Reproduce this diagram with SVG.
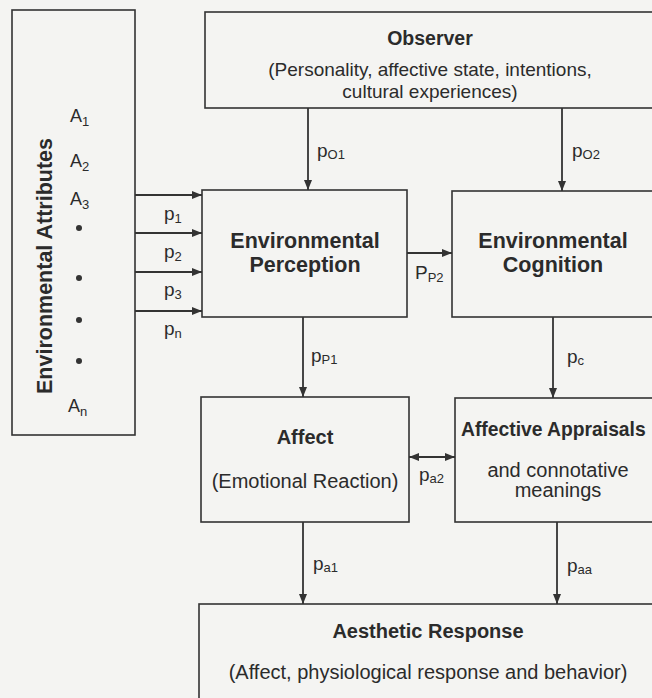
<svg xmlns="http://www.w3.org/2000/svg" width="652" height="698" viewBox="0 0 652 698">
<defs>
<marker id="ah" viewBox="0 0 10 8" refX="10" refY="4" markerWidth="10" markerHeight="8" markerUnits="userSpaceOnUse" orient="auto-start-reverse">
<path d="M0,0 L10,4 L0,8 z" fill="#333"/>
</marker>
<style>
.box{fill:none;stroke:#333;stroke-width:1.6}
.con{fill:none;stroke:#333;stroke-width:1.8}
text{font-family:"Liberation Sans",Arial,sans-serif;fill:#2b2b2b}
.t{font-weight:bold;font-size:20px;text-anchor:middle}
.tb{font-weight:bold;font-size:21.5px;text-anchor:middle}
.s{font-size:20px;text-anchor:middle}
.l{font-size:19px}
.a{font-size:18px}
.sub{font-size:13px}
</style>
</defs>
<rect width="652" height="698" fill="#f4f4f2"/>
<g id="attributes">
<rect class="box" x="12" y="10" width="123" height="425"/>
<text transform="translate(52,266) rotate(-90)" class="tb">Environmental Attributes</text>
<text x="70" y="122" class="a">A<tspan class="sub" dy="4">1</tspan></text>
<text x="70" y="167" class="a">A<tspan class="sub" dy="4">2</tspan></text>
<text x="70" y="205" class="a">A<tspan class="sub" dy="4">3</tspan></text>
<circle cx="79" cy="228" r="3" fill="#333"/>
<circle cx="79" cy="278" r="3" fill="#333"/>
<circle cx="79" cy="320" r="3" fill="#333"/>
<circle cx="79" cy="361" r="3" fill="#333"/>
<text x="68" y="412" class="a">A<tspan class="sub" dy="4">n</tspan></text>
</g>
<g id="observer">
<rect class="box" x="205" y="12" width="460" height="96"/>
<text x="430" y="45" class="t" style="font-size:19.5px">Observer</text>
<text x="430" y="76" class="s" style="font-size:19px">(Personality, affective state, intentions,</text>
<text x="430" y="98" class="s" style="font-size:19px">cultural experiences)</text>
</g>
<g id="perception">
<rect class="box" x="202" y="190" width="205" height="127"/>
<text x="305" y="248" class="tb">Environmental</text>
<text x="305" y="272" class="tb">Perception</text>
</g>
<g id="cognition">
<rect class="box" x="452" y="191" width="220" height="126"/>
<text x="553" y="248" class="tb">Environmental</text>
<text x="553" y="272" class="tb">Cognition</text>
</g>
<g id="affect">
<rect class="box" x="201" y="397" width="208" height="125"/>
<text x="305" y="444" class="t">Affect</text>
<text x="305" y="488" class="s">(Emotional Reaction)</text>
</g>
<g id="appraisals">
<rect class="box" x="455" y="398" width="220" height="124"/>
<text x="461" y="436" class="t" style="text-anchor:start;font-size:19.3px">Affective Appraisals</text>
<text x="558" y="477" class="s">and connotative</text>
<text x="558" y="497" class="s">meanings</text>
</g>
<g id="aesthetic">
<rect class="box" x="199" y="604" width="480" height="110"/>
<text x="428" y="638" class="t">Aesthetic Response</text>
<text x="428" y="679" class="s">(Affect, physiological response and behavior)</text>
</g>
<g id="connectors">
<line class="con" x1="135" y1="195" x2="202" y2="195" marker-end="url(#ah)"/>
<line class="con" x1="135" y1="233" x2="202" y2="233" marker-end="url(#ah)"/>
<line class="con" x1="135" y1="272" x2="202" y2="272" marker-end="url(#ah)"/>
<line class="con" x1="135" y1="311" x2="202" y2="311" marker-end="url(#ah)"/>
<line class="con" x1="308" y1="108" x2="308" y2="190" marker-end="url(#ah)"/>
<line class="con" x1="562" y1="108" x2="562" y2="191" marker-end="url(#ah)"/>
<line class="con" x1="407" y1="253" x2="452" y2="253" marker-end="url(#ah)"/>
<line class="con" x1="303" y1="317" x2="303" y2="397" marker-end="url(#ah)"/>
<line class="con" x1="553" y1="317" x2="553" y2="398" marker-end="url(#ah)"/>
<line class="con" x1="409" y1="457" x2="455" y2="457" marker-start="url(#ah)" marker-end="url(#ah)"/>
<line class="con" x1="303" y1="522" x2="303" y2="604" marker-end="url(#ah)"/>
<line class="con" x1="557" y1="522" x2="557" y2="604" marker-end="url(#ah)"/>
<text x="164" y="220" class="l">p<tspan class="sub" dy="3">1</tspan></text>
<text x="164" y="258" class="l">p<tspan class="sub" dy="3">2</tspan></text>
<text x="164" y="296" class="l">p<tspan class="sub" dy="3">3</tspan></text>
<text x="164" y="335" class="l">p<tspan class="sub" dy="3">n</tspan></text>
<text x="317" y="157" class="l">p<tspan class="sub" dy="2">O1</tspan></text>
<text x="572" y="157" class="l">p<tspan class="sub" dy="2">O2</tspan></text>
<text x="415" y="279" class="l">P<tspan class="sub" dy="3">P2</tspan></text>
<text x="311" y="362" class="l">p<tspan class="sub" dy="2">P1</tspan></text>
<text x="567" y="363" class="l">p<tspan class="sub" dy="2">c</tspan></text>
<text x="419" y="481" class="l">p<tspan class="sub" dy="2">a2</tspan></text>
<text x="313" y="570" class="l">p<tspan class="sub" dy="2">a1</tspan></text>
<text x="567" y="572" class="l">p<tspan class="sub" dy="2">aa</tspan></text>
</g>
</svg>
